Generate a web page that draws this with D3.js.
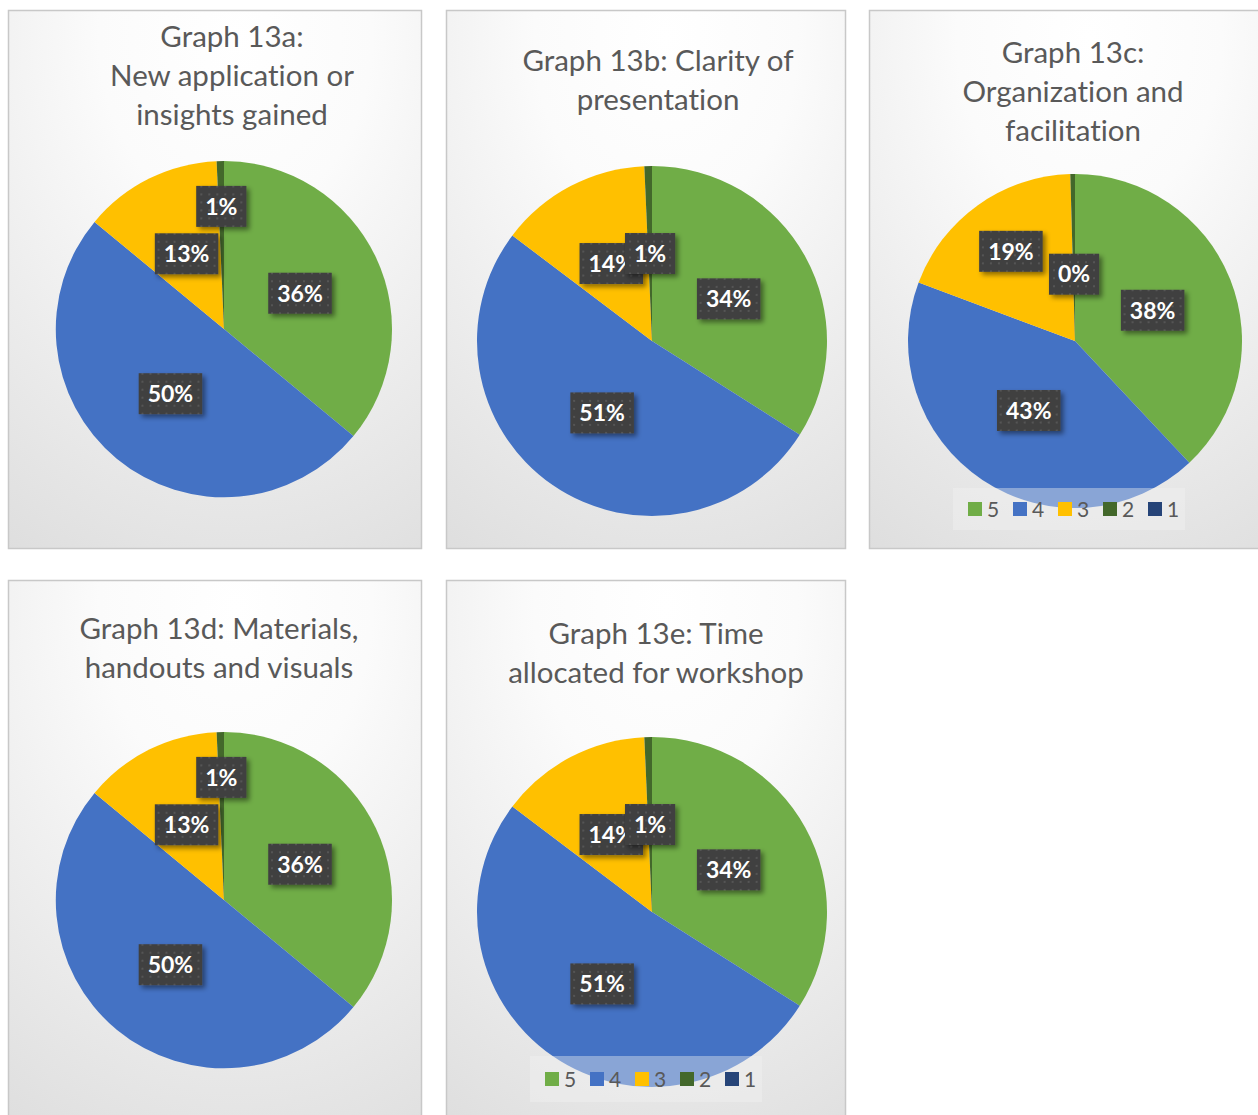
<!DOCTYPE html>
<html><head><meta charset="utf-8">
<script src="https://cdn.jsdelivr.net/npm/d3@7"></script>
<style>html,body{margin:0;padding:0;background:#fff;}svg{display:block;}text{font-variant-ligatures:none;}</style>
</head><body>
<svg id="chart" width="1258" height="1115"></svg>
<script>
// ---- data ----
const ratingLevels = ["5", "4", "3", "2", "1"];
const graph13a = [36, 50, 13.3, 0.7, 0];
const graph13b = [34, 51.3, 14, 0.7, 0];
const graph13c = [38, 42.7, 18.85, 0.45, 0];
const graph13d = [36, 50, 13.3, 0.7, 0];
const graph13e = [34, 51.3, 14, 0.7, 0];
const titles13a = ["Graph 13a:", "New application or", "insights gained"];
const titles13b = ["Graph 13b: Clarity of", "presentation"];
const titles13c = ["Graph 13c:", "Organization and", "facilitation"];
const titles13d = ["Graph 13d: Materials,", "handouts and visuals"];
const titles13e = ["Graph 13e: Time", "allocated for workshop"];

// ---- layout / style ----
const colors = ["#70AD47", "#4472C4", "#FFC000", "#43682B", "#264478"];
const panels = [
  {values: graph13a, title: titles13a, x: 8, y: 10, w: 413, h: 538, cx: 224, cy: 329, r: 168, tx: 232, ty: 37, lr: [0.5, 0.5, 0.5, 0.73, 0.5], legend: null},
  {values: graph13b, title: titles13b, x: 446, y: 10, w: 399, h: 538, cx: 652, cy: 341, r: 175, tx: 658, ty: 61, lr: [0.5, 0.5, 0.5, 0.5, 0.5], legend: null},
  {values: graph13c, title: titles13c, x: 869, y: 10, w: 400, h: 538, cx: 1075, cy: 341, r: 167, tx: 1073, ty: 53, lr: [0.5, 0.5, 0.66, 0.4, 0.5], legend: {x: 953, y: 488, w: 232, h: 42}},
  {values: graph13d, title: titles13d, x: 8, y: 580, w: 413, h: 545, cx: 224, cy: 900, r: 168, tx: 219, ty: 629, lr: [0.5, 0.5, 0.5, 0.73, 0.5], legend: null},
  {values: graph13e, title: titles13e, x: 446, y: 580, w: 399, h: 545, cx: 652, cy: 912, r: 175, tx: 656, ty: 634, lr: [0.5, 0.5, 0.5, 0.5, 0.5], legend: {x: 530, y: 1056, w: 232, h: 46}}
];

const svg = d3.select("#chart");
const defs = svg.append("defs");
const grad = defs.append("radialGradient").attr("id", "bg").attr("cx", "55%").attr("cy", "5%").attr("r", "110%")
  .attr("fx", "55%").attr("fy", "5%");
grad.append("stop").attr("offset", "0%").attr("stop-color", "#ffffff");
grad.append("stop").attr("offset", "30%").attr("stop-color", "#fbfbfb");
grad.append("stop").attr("offset", "100%").attr("stop-color", "#dedede");
const pat = defs.append("pattern").attr("id", "dots").attr("patternUnits", "userSpaceOnUse").attr("width", 8).attr("height", 8);
pat.append("rect").attr("width", 8).attr("height", 8).attr("fill", "#404040");
pat.append("rect").attr("x", 3).attr("y", 3).attr("width", 2).attr("height", 2).attr("fill", "#555555");
const sh = defs.append("filter").attr("id", "shadow").attr("x", "-30%").attr("y", "-30%").attr("width", "170%").attr("height", "170%");
sh.append("feDropShadow").attr("dx", 3).attr("dy", 3).attr("stdDeviation", 2.5).attr("flood-color", "#000").attr("flood-opacity", 0.45);

const pie = d3.pie().sort(null).value(d => d);
const fmt = v => Math.round(v) + "%";

panels.forEach(p => {
  const g = svg.append("g");
  g.append("rect").attr("x", p.x + 0.5).attr("y", p.y + 0.5).attr("width", p.w).attr("height", p.h)
    .attr("fill", "url(#bg)").attr("stroke", "#c8c8c8").attr("stroke-width", 1.5);

  g.append("text").attr("x", p.tx).attr("y", p.ty)
    .attr("text-anchor", "middle").attr("font-family", "Lato, 'Open Sans', sans-serif")
    .attr("font-size", 29.5).attr("fill", "#595959")
    .selectAll("tspan").data(p.title).join("tspan")
    .attr("x", p.tx).attr("dy", (d, i) => i === 0 ? "0.35em" : 39).text(d => d);

  const arcs = pie(p.values);
  const arc = d3.arc().innerRadius(0).outerRadius(p.r);
  const pg = g.append("g").attr("transform", `translate(${p.cx},${p.cy})`);
  pg.selectAll("path").data(arcs).join("path")
    .attr("d", arc).attr("fill", (d, i) => colors[i]);

  arcs.forEach((a, i) => {
    if (a.data <= 0) return;
    const la = d3.arc().innerRadius(p.r * p.lr[i]).outerRadius(p.r * p.lr[i]);
    const [lx, ly] = la.centroid(a);
    const lg = pg.append("g").attr("transform", `translate(${lx},${ly})`);
    const box = lg.append("rect").attr("fill", "url(#dots)").attr("filter", "url(#shadow)");
    const t = lg.append("text").attr("text-anchor", "middle").attr("dy", "0.36em")
      .attr("font-family", "Lato, 'Open Sans', sans-serif").attr("font-weight", "bold")
      .attr("font-size", 23).attr("fill", "#ffffff").text(fmt(a.data));
    const tw = t.node().getComputedTextLength();
    const bw = tw + 18, bh = 41;
    box.attr("x", -bw / 2).attr("y", -bh / 2).attr("width", bw).attr("height", bh);
  });

  if (p.legend) {
    const L = p.legend;
    g.append("rect").attr("x", L.x).attr("y", L.y).attr("width", L.w).attr("height", L.h)
      .attr("fill", "#f2f2f2").attr("fill-opacity", 0.4);
    const items = g.append("g").selectAll("g").data(ratingLevels).join("g")
      .attr("transform", (d, i) => `translate(${L.x + 15 + i * 45},${L.y + L.h / 2})`);
    items.append("rect").attr("x", 0).attr("y", -7).attr("width", 14).attr("height", 14)
      .attr("fill", (d, i) => colors[i]);
    items.append("text").attr("x", 19).attr("dy", "0.36em")
      .attr("font-family", "Lato, 'Open Sans', sans-serif").attr("font-size", 21)
      .attr("fill", "#595959").text(d => d);
  }
});
</script>
</body></html>
